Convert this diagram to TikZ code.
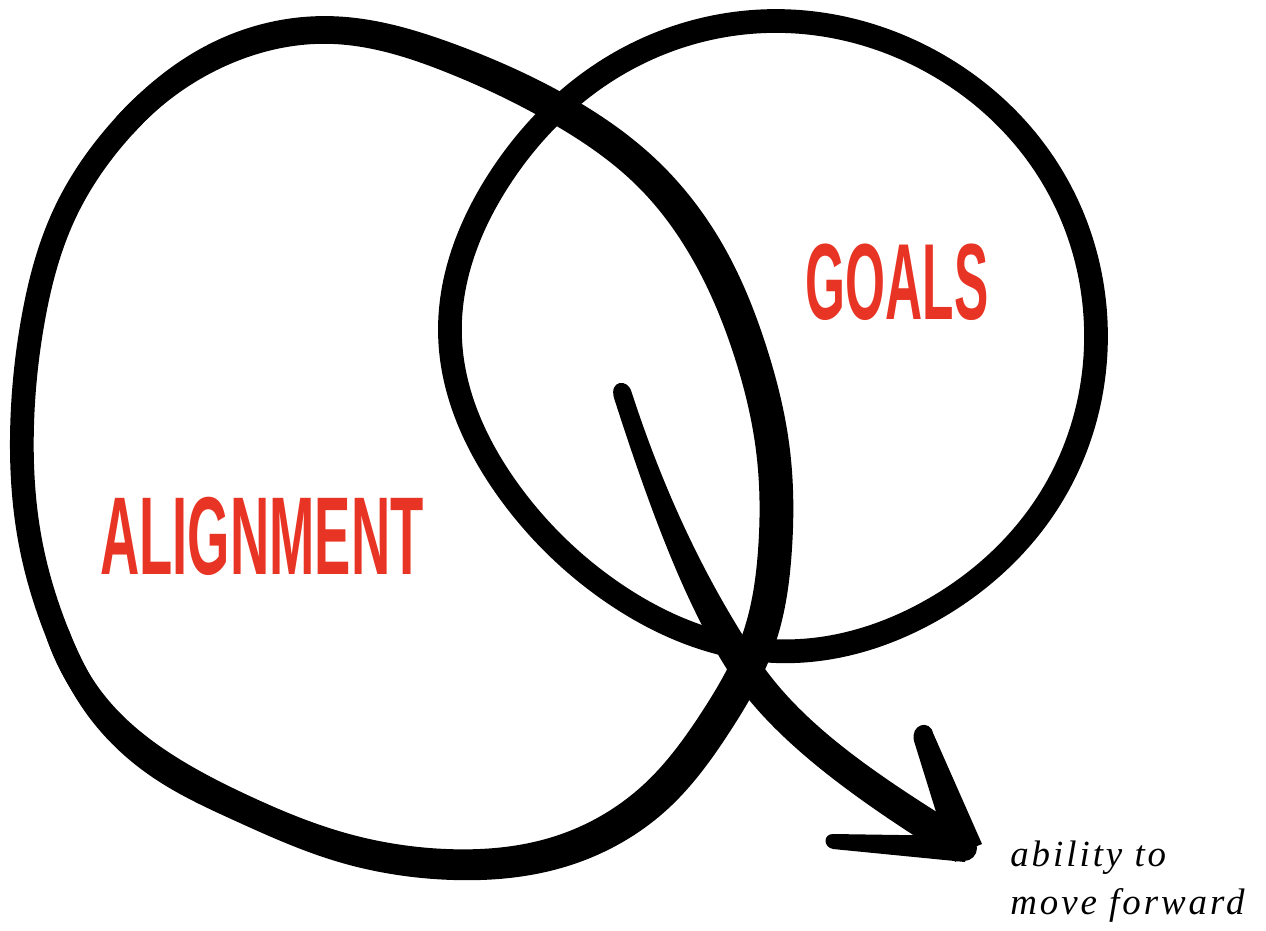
\documentclass[tikz,border=0pt]{standalone}
\usepackage{fontspec}
\usepackage{graphicx}
\setmainfont{Liberation Serif}
\newfontfamily\headfont{Liberation Sans}
\newfontfamily\notefont[LetterSpace=8]{Liberation Serif}
\definecolor{inkred}{RGB}{232,52,36}
\usetikzlibrary{positioning,hobby}

\begin{document}
\begin{tikzpicture}[x=0.02cm, y=-0.02cm,
  ink/.style={draw=black, line width=#1, line cap=round, line join=round, use Hobby shortcut},
  ink/.default=13.5pt,
  brush/.style={fill=black},
  word/.style={inner sep=0pt, text=inkred, font=\headfont\bfseries},
  note/.style={inner sep=0pt, align=left, anchor=north west,
    font=\notefont\itshape\fontsize{21}{27}\selectfont}]
\useasboundingbox (0,0) rectangle (1266,930);
% left loop
\draw[ink, closed=true] (330,28) .. (450,55) .. (560,105) .. (650,170) .. (715,255)
  .. (755,350) .. (778,450) .. (780,550) .. (764,640) .. (720,725) .. (660,800)
  .. (560,856) .. (450,868) .. (340,850) .. (240,810) .. (160,768) .. (100,712)
  .. (58,635) .. (30,540) .. (22,430) .. (33,320) .. (64,215) .. (125,125) .. (220,52);
% heavier side of the left loop
\draw[ink] (125,125) .. (221,55) .. (330,32) .. (450,61) .. (556,112) .. (645,177)
  .. (707,261) .. (746,354) .. (768,451) .. (770,549) .. (754,637) .. (712,718)
  .. (653,792) .. (557,848) .. (450,861) .. (341,844) .. (243,806) .. (165,764)
  .. (102,711) .. (58,635);
% right loop
\draw[ink, closed=true] (773,21) .. (934,63) .. (1053,178) .. (1096,336)
  .. (1053,494) .. (934,609) .. (773,651) .. (612,592) .. (508,490)
  .. (450,336) .. (500,178) .. (611,68);
\node[word] (align) at (262,536) {\resizebox{184pt}{44pt}{ALIGNMENT}};
\node[word] (goals) at (897,282) {\resizebox{104pt}{43pt}{GOALS}};
\coordinate (tail) at (623,395);
\coordinate (tip) at (964,848);
\node[note] (fwd) at (1010,841) {ability to\\move forward};
% arrow: tapered shaft, then the two barbs
\fill[brush] (tail) ++(8.6,-2.8) .. controls (669,507) and (713,591) .. (758,659)
  .. controls (803,726) and (878,776) .. (972,834)
  -- (956,862) .. controls (862,804) and (777,744) .. (732,677)
  .. controls (687,609) and (651,513) .. (614,398)
  .. controls (609,380) and (628,378) .. cycle;
\fill[brush] (914,741) .. controls (910,724) and (930,719) .. (933,733)
  -- (982,844) -- (950,857) -- cycle;
\fill[brush] (833,849) .. controls (823,847) and (823,834) .. (833,834)
  -- (967,836) -- (965,862) -- cycle;
\fill[brush] (tip) circle[radius=13];
\end{tikzpicture}
\end{document}
